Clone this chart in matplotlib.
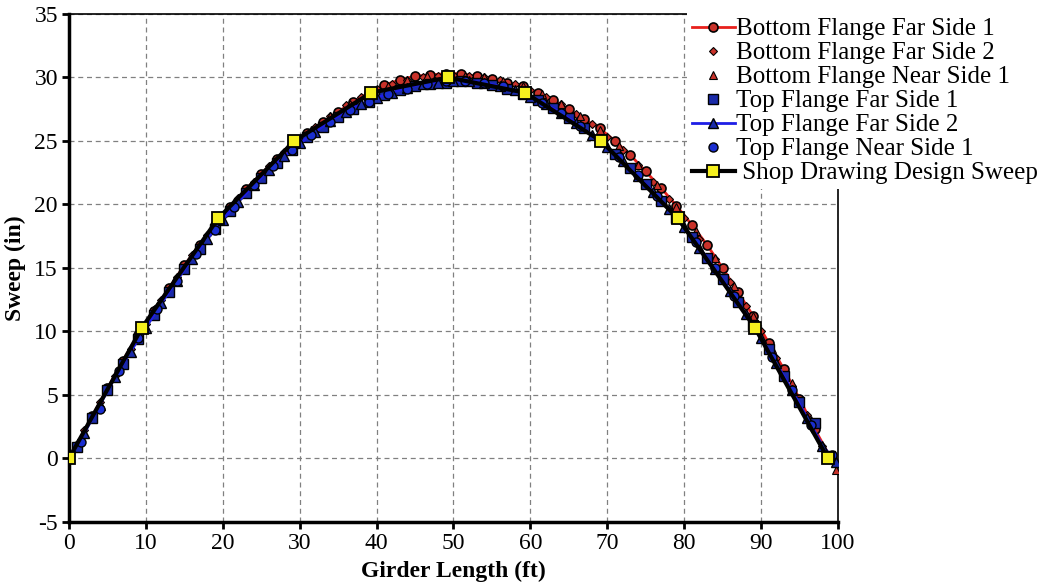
import matplotlib
matplotlib.use('Agg')
import matplotlib.pyplot as plt

plt.rcParams['font.family'] = ['Liberation Serif', 'DejaVu Serif']
plt.rcParams['axes.unicode_minus'] = False

# bottom flange far side 1 (red line + circles)
bffs1_x = [1, 3, 5, 7, 9, 11, 13, 15, 17, 19, 21, 23, 25, 27, 29, 31, 33, 35, 37, 39,
           41, 43, 45, 47, 49, 51, 53, 55, 57, 59, 61, 63, 65, 67, 69, 71, 73, 75, 77, 79,
           81, 83, 85, 87, 89, 91, 93, 95, 97, 99]
bffs1_y = [1.0, 3.3, 5.5, 7.7, 9.7, 11.6, 13.4, 15.2, 16.8, 18.4, 19.8, 21.2, 22.4, 23.6, 24.6,
           25.6, 26.5, 27.3, 28.1, 28.8, 29.4, 29.8, 30.1, 30.2, 30.3, 30.3, 30.1, 29.9, 29.6, 29.3,
           28.8, 28.2, 27.5, 26.7, 26.0, 25.0, 23.9, 22.6, 21.3, 19.9, 18.4, 16.8, 15.0, 13.1, 11.2,
           9.1, 7.0, 4.7, 2.3, 0.1]

# bottom flange far side 2 (red diamonds)
bffs2_x = [2, 4, 6, 8, 10, 12, 14, 16, 18, 20, 22, 24, 26, 28, 30, 32, 34, 36, 38, 40,
           42, 44, 46, 48, 50, 52, 54, 56, 58, 60, 62, 64, 66, 68, 70, 72, 74, 76, 78, 80,
           82, 84, 86, 88, 90, 92, 94, 96, 98]
bffs2_y = [2.2, 4.4, 6.5, 8.6, 10.6, 12.5, 14.3, 16.0, 17.6, 19.1, 20.5, 21.8, 23.0, 24.1, 25.1,
           26.1, 27.0, 27.8, 28.5, 29.1, 29.5, 29.8, 30.0, 30.1, 30.2, 30.1, 30.0, 29.8, 29.5, 29.0,
           28.5, 27.9, 27.1, 26.3, 25.3, 24.3, 23.1, 21.8, 20.4, 18.9, 17.3, 15.7, 13.9, 12.0, 10.0,
           7.9, 5.7, 3.4, 1.0]

# bottom flange near side 1 (red triangles)
bfns1_x = [1.5, 4, 6.5, 9, 11.5, 14, 16.5, 19, 21.5, 24, 26.5, 29, 31.5, 34, 36.5, 39, 41.5, 44,
           46.5, 49, 51.5, 54, 56.5, 59, 61.5, 64, 66.5, 69, 71.5, 74, 76.5, 79, 81.5, 84, 86.5,
           89, 91.5, 94, 96.5, 99.7]
bfns1_y = [1.6, 4.3, 7.0, 9.6, 12.0, 14.3, 16.4, 18.4, 20.2, 21.8, 23.3, 24.7, 25.9, 27.0, 27.9,
           28.7, 29.3, 29.8, 30.1, 30.2, 30.1, 30.0, 29.7, 29.3, 28.7, 27.9, 27.0, 25.9, 24.6, 23.1,
           21.5, 19.8, 17.9, 15.8, 13.6, 11.2, 8.6, 5.9, 3.0, -0.9]

# top flange far side 1 (blue squares)
tffs1_x = [1, 3, 5, 7, 9, 11, 13, 15, 17, 19, 21, 23, 25, 27, 29, 31, 33, 35, 37, 39,
           41, 43, 45, 47, 49, 51, 53, 55, 57, 59, 61, 63, 65, 67, 69, 71, 73, 75, 77, 79,
           81, 83, 85, 87, 89, 91, 93, 95, 97, 99]
tffs1_y = [0.9, 3.2, 5.4, 7.4, 9.4, 11.3, 13.1, 14.9, 16.5, 18.1, 19.5, 20.9, 22.1, 23.3, 24.3,
           25.3, 26.1, 26.9, 27.5, 28.1, 28.6, 29.0, 29.3, 29.5, 29.6, 29.7, 29.6, 29.4, 29.1, 28.7,
           28.2, 27.6, 26.8, 26.0, 25.0, 24.0, 22.9, 21.6, 20.3, 18.9, 17.4, 15.8, 14.1, 12.3, 10.5,
           8.6, 6.5, 4.4, 2.8, 0.2]

# top flange far side 2 (blue line + triangles)
tffs2_x = [2, 4, 6, 8, 10, 12, 14, 16, 18, 20, 22, 24, 26, 28, 30, 32, 34, 36, 38, 40,
           42, 44, 46, 48, 50, 52, 54, 56, 58, 60, 62, 64, 66, 68, 70, 72, 74, 76, 78, 80,
           82, 84, 86, 88, 90, 92, 94, 96, 98, 99.8]
tffs2_y = [2.0, 4.2, 6.4, 8.4, 10.3, 12.2, 14.0, 15.7, 17.3, 18.8, 20.2, 21.5, 22.7, 23.8, 24.8,
           25.7, 26.6, 27.3, 27.9, 28.4, 28.8, 29.2, 29.5, 29.6, 29.7, 29.7, 29.6, 29.3, 29.0, 28.5,
           27.9, 27.2, 26.4, 25.5, 24.5, 23.4, 22.2, 21.0, 19.6, 18.2, 16.6, 14.9, 13.2, 11.4, 9.5,
           7.5, 5.4, 3.2, 1.0, -0.3]

# top flange near side 1 (blue circles)
tfns1_x = [1.5, 4, 6.5, 9, 11.5, 14, 16.5, 19, 21.5, 24, 26.5, 29, 31.5, 34, 36.5, 39, 41.5, 44,
           46.5, 49, 51.5, 54, 56.5, 59, 61.5, 64, 66.5, 69, 71.5, 74, 76.5, 79, 81.5, 84, 86.5,
           89, 91.5, 94, 96.5, 99.2]
tfns1_y = [1.3, 3.9, 6.9, 9.5, 11.8, 14.0, 16.1, 18.0, 19.8, 21.5, 23.0, 24.3, 25.5, 26.5, 27.4,
           28.1, 28.7, 29.1, 29.5, 29.7, 29.7, 29.6, 29.3, 28.7, 28.0, 27.2, 26.2, 25.0, 23.7, 22.3,
           20.7, 18.9, 17.0, 15.0, 12.8, 10.5, 8.0, 5.4, 2.6, 0.3]

# shop drawing design sweep
design_x = [0, 9.5, 19.4, 29.3, 39.3, 49.3, 59.3, 69.2, 79.2, 89.2, 98.7]
design_y = [0, 10.3, 18.9, 25.0, 28.8, 30.0, 28.8, 25.0, 18.9, 10.3, 0]

red_fill = '#c8322a'
blue_fill = '#1a2aa8'

fig = plt.figure(figsize=(10.46, 5.83), dpi=100)
ax = fig.add_axes([0.066, 0.105, 0.735, 0.871])

ax.plot(bffs1_x, bffs1_y, color='#e8201c', lw=2, marker='o', ms=6.5,
        mfc=red_fill, mec='black', mew=1.2, label='Bottom Flange Far Side 1', zorder=3)
ax.plot(bffs2_x, bffs2_y, ls='none', marker='D', ms=4.5,
        mfc=red_fill, mec='black', mew=0.8, label='Bottom Flange Far Side 2', zorder=3)
ax.plot(bfns1_x, bfns1_y, ls='none', marker='^', ms=6,
        mfc=red_fill, mec='black', mew=0.8, label='Bottom Flange Near Side 1', zorder=3)
ax.plot(tffs1_x, tffs1_y, ls='none', marker='s', ms=6.5,
        mfc=blue_fill, mec='black', mew=1.0, label='Top Flange Far Side 1', zorder=4)
ax.plot(tffs2_x, tffs2_y, color='#1e1ee6', lw=2, marker='^', ms=6.5,
        mfc=blue_fill, mec='black', mew=1.0, label='Top Flange Far Side 2', zorder=4)
ax.plot(tfns1_x, tfns1_y, ls='none', marker='o', ms=6.5,
        mfc='#1a2ed0', mec='black', mew=1.0, label='Top Flange Near Side 1', zorder=4)
ax.plot(design_x, design_y, color='black', lw=3, marker='s', ms=9,
        mfc='#f5f01e', mec='black', mew=1.3, label=' Shop Drawing Design Sweep', zorder=5)

ax.set_xlim(0, 100)
ax.set_ylim(-5, 35)
ax.set_xticks(range(0, 101, 10))
ax.set_yticks(range(-5, 36, 5))
ax.grid(True, ls=(0, (4, 3)), color='#808080', lw=0.9)
ax.set_axisbelow(True)

ax.spines['left'].set_linewidth(2.5)
ax.spines['bottom'].set_linewidth(2.5)
ax.spines['top'].set_linewidth(1.2)
ax.spines['right'].set_linewidth(1.2)
ax.tick_params(direction='out', length=5, width=2, labelsize=17, pad=3)

ax.set_xlabel('Girder Length (ft)', fontsize=17, fontweight='bold', labelpad=5)
ax.set_ylabel('Sweep (in)', fontsize=17, fontweight='bold', labelpad=6)

leg = ax.legend(loc='upper left', bbox_to_anchor=(0.657, 0.978), bbox_transform=fig.transFigure,
                fontsize=18, frameon=True, framealpha=1, facecolor='white', edgecolor='none',
                fancybox=False, borderpad=0.2, borderaxespad=0, labelspacing=0.06,
                handlelength=1.7, handletextpad=0.05)
leg.set_zorder(10)

fig.savefig('out.png', dpi=100)
